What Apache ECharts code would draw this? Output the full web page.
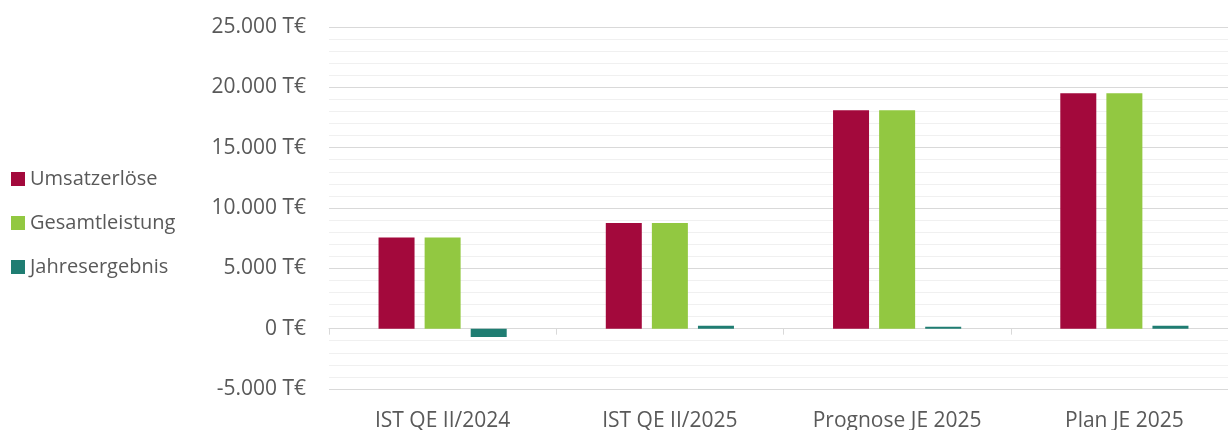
<!DOCTYPE html>
<html>
<head>
<meta charset="utf-8">
<script src="https://cdn.jsdelivr.net/npm/echarts@6/dist/echarts.min.js"></script>
<style>
html,body{margin:0;padding:0;background:#fff;}
#chart{width:1228px;height:430px;}
</style>
</head>
<body>
<div id="chart"></div>
<script>
const categories = ['IST QE II/2024', 'IST QE II/2025', 'Prognose JE 2025', 'Plan JE 2025'];
const umsatzerloese = [7550, 8750, 18100, 19500];
const gesamtleistung = [7550, 8750, 18100, 19500];
const jahresergebnis = [-700, 250, 150, 250];
const seriesNames = ['Umsatzerlöse', 'Gesamtleistung', 'Jahresergebnis'];
const yMin = -5000, yMax = 25000, yStep = 5000;

function fmt(v) {
  const s = String(Math.abs(v)).replace(/\B(?=(\d{3})+(?!\d))/g, '.');
  return (v < 0 ? '-' : '') + s + ' T€';
}

const FONT = '"Open Sans", sans-serif';
const TXT = '#595959';
const chart = echarts.init(document.getElementById('chart'));
chart.setOption({
  animation: false,
  textStyle: { fontFamily: FONT },
  grid: { left: 329, top: 27, width: 909, bottom: 41, containLabel: false, outerBoundsMode: 'none' },
  legend: {
    orient: 'vertical', left: 11, top: 169, padding: 0,
    itemWidth: 14, itemHeight: 14, itemGap: 24,
    icon: 'rect',
    textStyle: { fontFamily: FONT, fontSize: 20, color: TXT, lineHeight: 20 },
    data: seriesNames
  },
  xAxis: [
    {
      type: 'category', data: categories,
      axisLine: { onZero: true, lineStyle: { color: '#d9d9d9', width: 1 } },
      axisTick: { show: true, length: 6, lineStyle: { color: '#d9d9d9' } },
      axisLabel: { show: false },
      splitLine: { show: false }
    },
    {
      type: 'category', data: categories, position: 'bottom',
      axisLine: { show: false, onZero: false },
      axisTick: { show: false },
      axisLabel: { show: true, margin: 22, fontSize: 21, color: TXT, fontFamily: FONT },
      splitLine: { show: false }
    }
  ],
  yAxis: {
    type: 'value', min: yMin, max: yMax, interval: yStep,
    axisLine: { show: false }, axisTick: { show: false },
    axisLabel: { margin: 23, fontSize: 21, color: TXT, fontFamily: FONT, formatter: fmt },
    splitLine: { show: true, lineStyle: { color: '#d9d9d9', width: 1 } },
    minorTick: { show: false, splitNumber: 5 },
    minorSplitLine: { show: true, lineStyle: { color: '#f0f0f0', width: 1 } }
  },
  series: [
    { name: seriesNames[0], type: 'bar', data: umsatzerloese, barWidth: 36, barGap: '28%', itemStyle: { color: '#A3093C' } },
    { name: seriesNames[1], type: 'bar', data: gesamtleistung, barWidth: 36, barGap: '28%', itemStyle: { color: '#92C841' } },
    { name: seriesNames[2], type: 'bar', data: jahresergebnis, barWidth: 36, barGap: '28%', itemStyle: { color: '#1F7D72' } }
  ]
});
</script>
</body>
</html>
